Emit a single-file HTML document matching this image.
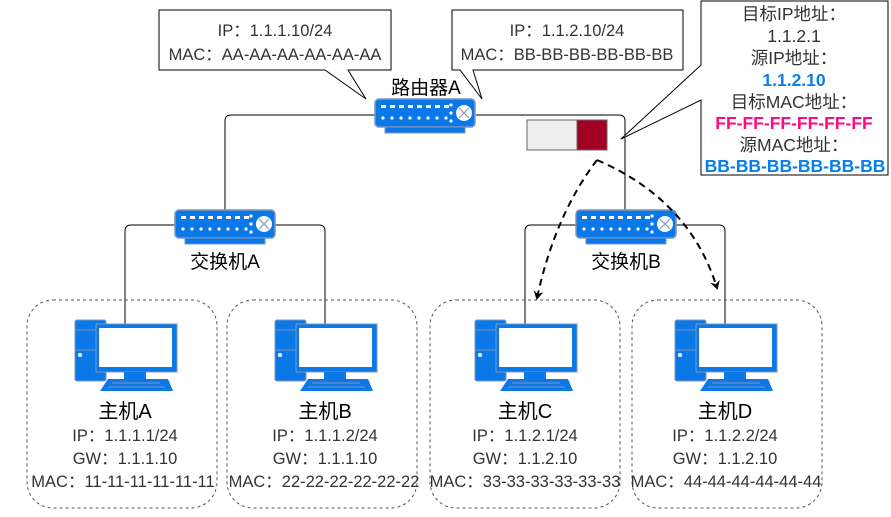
<!DOCTYPE html>
<html><head><meta charset="utf-8"><style>
html,body{margin:0;padding:0;background:#fff}
svg text{font-family:"Liberation Sans","Noto Sans CJK SC",sans-serif}
</style></head><body>
<svg width="891" height="512" viewBox="0 0 891 512" xmlns="http://www.w3.org/2000/svg">
<defs>
<g id="sw">
<rect x="0" y="0" width="100" height="28" rx="4" fill="#0b78e8" stroke="#7f95c0" stroke-width="1.5"/>
<rect x="10" y="28" width="80" height="6" fill="#0b78e8" stroke="#7f95c0" stroke-width="1"/>
<g fill="#fff">
<rect x="6" y="6" width="5" height="3"/><rect x="15" y="6" width="5" height="3"/><rect x="24" y="6" width="5" height="3"/><rect x="33" y="6" width="5" height="3"/><rect x="42" y="6" width="5" height="3"/><rect x="51" y="6" width="5" height="3"/><rect x="60" y="6" width="5" height="3"/><rect x="69" y="6" width="5" height="3"/>
<circle cx="8" cy="19" r="1.6"/><circle cx="17" cy="19" r="1.6"/><circle cx="26" cy="19" r="1.6"/><circle cx="35" cy="19" r="1.6"/><circle cx="44" cy="19" r="1.6"/><circle cx="53" cy="19" r="1.6"/><circle cx="62" cy="19" r="1.6"/><circle cx="71" cy="19" r="1.6"/>
<circle cx="76" cy="6" r="1.6"/><circle cx="76" cy="14" r="1.6"/><circle cx="76" cy="22" r="1.6"/>
<circle cx="89" cy="14" r="8"/>
</g>
<path d="M84 9 L94 19 M94 9 L84 19" stroke="#7f95c0" stroke-width="1.2"/>
</g>
<g id="pc">
<rect x="75" y="320" width="31" height="61" rx="2" fill="#0b78e8" stroke="#7f95c0"/>
<line x1="75" y1="330" x2="96" y2="330" stroke="#7f95c0"/>
<line x1="75" y1="350" x2="96" y2="350" stroke="#7f95c0"/>
<circle cx="80" cy="355" r="2" fill="#fff"/>
<rect x="96" y="324" width="81" height="48" fill="#0b78e8" stroke="#7f95c0"/>
<rect x="99" y="328" width="73" height="39" fill="#fff"/>
<rect x="124" y="372" width="22" height="8" fill="#0b78e8"/>
<path d="M108 379 L168 379 L173 391 L100 391 Z" fill="#0b78e8"/>
<path d="M112 383 L160 383 M108 387 L165 387" stroke="#7f95c0" stroke-width="1"/>
</g>
<marker id="ah" markerWidth="10" markerHeight="10" refX="7" refY="5" orient="auto" markerUnits="userSpaceOnUse"><path d="M0 0 L9 5 L0 10 L3 5 Z" fill="#000"/></marker>
</defs>

<g fill="none" stroke="#000" stroke-width="1">
<path d="M375 115 L231 115 Q225 115 225 121 L225 210"/>
<path d="M476 115 L619 115 Q625 115 625 121 L625 210"/>
<path d="M175 225 L131 225 Q125 225 125 231 L125 324"/>
<path d="M275 225 L319 225 Q325 225 325 231 L325 324"/>
<path d="M576 225 L531 225 Q525 225 525 231 L525 324"/>
<path d="M676 225 L719 225 Q725 225 725 231 L725 324"/>
</g>

<g fill="none" stroke="#555" stroke-dasharray="3,3">
<rect x="27" y="300" width="190" height="208" rx="26"/>
<rect x="227" y="300" width="190" height="208" rx="26"/>
<rect x="430" y="300" width="190" height="208" rx="26"/>
<rect x="632" y="300" width="190" height="208" rx="26"/>
</g>

<use href="#pc"/>
<use href="#pc" x="200"/>
<use href="#pc" x="400"/>
<use href="#pc" x="600"/>

<use href="#sw" x="375" y="99"/>
<use href="#sw" x="175" y="210"/>
<use href="#sw" x="576" y="210"/>

<g font-size="19" text-anchor="middle" fill="#000">
<text x="426" y="94">路由器A</text>
<text x="225" y="268">交换机A</text>
<text x="626" y="268">交换机B</text>
</g>

<path d="M159 10 L391 10 L391 70 L348 70 L366 99 L325 70 L159 70 Z" fill="#fff" stroke="#000"/>
<path d="M452 10 L683 10 L683 70 L473 70 L482 99 L460 70 L452 70 Z" fill="#fff" stroke="#000"/>
<g font-size="16.5" text-anchor="middle" fill="#333">
<text x="275" y="36">IP：1.1.1.10/24</text>
<text x="275" y="60">MAC：AA-AA-AA-AA-AA-AA</text>
<text x="567" y="36">IP：1.1.2.10/24</text>
<text x="567" y="60">MAC：BB-BB-BB-BB-BB-BB</text>
</g>

<path d="M701 1 L888 1 L888 175 L701 175 L701 100 L621 139 L701 65 Z" fill="#fff" stroke="#000"/>
<g font-size="17.5" text-anchor="middle" fill="#333">
<text x="794" y="20">目标IP地址：</text>
<text x="794" y="42">1.1.2.1</text>
<text x="794" y="64">源IP地址：</text>
<text x="794" y="86" fill="#0a7fe6" font-weight="bold">1.1.2.10</text>
<text x="794" y="108">目标MAC地址：</text>
<text x="794" y="129" fill="#ff0a80" font-weight="bold">FF-FF-FF-FF-FF-FF</text>
<text x="794" y="151">源MAC地址：</text>
<text x="795" y="172" fill="#0a7fe6" font-weight="bold">BB-BB-BB-BB-BB-BB</text>
</g>

<rect x="527" y="120" width="50" height="30" fill="#eee" stroke="#666"/>
<rect x="577" y="120" width="30" height="30" fill="#a20025" stroke="#666"/>

<g fill="none" stroke="#000" stroke-width="2" stroke-dasharray="7,5">
<path d="M597 160 Q555 215 537 298" marker-end="url(#ah)"/>
<path d="M597 160 Q690 200 717 288" marker-end="url(#ah)"/>
</g>

<g text-anchor="middle" fill="#333">
<g font-size="20" fill="#000">
<text x="125" y="418">主机A</text><text x="325" y="418">主机B</text><text x="525" y="418">主机C</text><text x="725" y="418">主机D</text>
</g>
<g font-size="16.5">
<text x="125" y="441">IP：1.1.1.1/24</text><text x="125" y="464">GW：1.1.1.10</text><text x="123" y="487">MAC：11-11-11-11-11-11</text>
<text x="325" y="441">IP：1.1.1.2/24</text><text x="325" y="464">GW：1.1.1.10</text><text x="324" y="487">MAC：22-22-22-22-22-22</text>
<text x="525" y="441">IP：1.1.2.1/24</text><text x="525" y="464">GW：1.1.2.10</text><text x="525" y="487">MAC：33-33-33-33-33-33</text>
<text x="725" y="441">IP：1.1.2.2/24</text><text x="725" y="464">GW：1.1.2.10</text><text x="726" y="487">MAC：44-44-44-44-44-44</text>
</g>
</g>
</svg>
</body></html>
